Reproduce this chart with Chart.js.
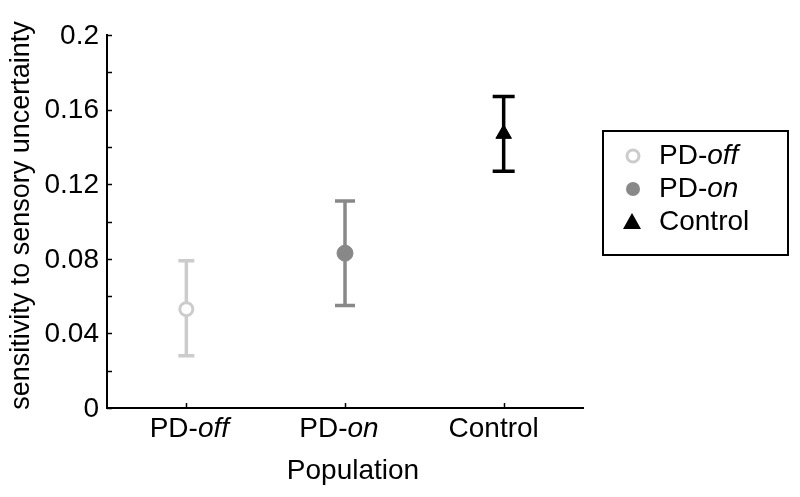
<!DOCTYPE html>
<html>
<head>
<meta charset="utf-8">
<script src="https://cdn.jsdelivr.net/npm/chart.js@4"></script>
<style>
  html, body { margin: 0; background: #fff; }
  #wrap { width: 800px; height: 497px; }
</style>
</head>
<body>
<div id="wrap"><canvas id="c"></canvas></div>
<script>
// data læst fra figuren
const categories = ['PD-off', 'PD-on', 'Control'];
const labelPlain = ['PD-', 'PD-', 'Control'];   // normal del af label
const labelItalic = ['off', 'on', ''];           // kursiv del af label
const means = [0.053, 0.083, 0.147];
const lower = [0.028, 0.055, 0.127];
const upper = [0.079, 0.111, 0.167];
const yTicks = [0, 0.04, 0.08, 0.12, 0.16, 0.2];

const colors = ['#cccccc', '#888888', '#000000'];
const FONT = '"Liberation Sans", Arial, sans-serif';

// tegner label (normal + kursiv del)
// align: 'left' | 'center' | 'right'
function mixedText(ctx, plain, ital, x, y, align, fs) {
  fs = fs || 28;
  ctx.save();
  ctx.font = fs + 'px ' + FONT;
  const w1 = ctx.measureText(plain).width;
  ctx.font = 'italic ' + fs + 'px ' + FONT;
  const w2 = ital ? ctx.measureText(ital).width : 0;
  const w = w1 + w2;
  let x0 = x;
  if (align === 'center') x0 = x - w / 2;
  if (align === 'right') x0 = x - w;
  ctx.textAlign = 'left';
  ctx.textBaseline = 'middle';
  ctx.font = fs + 'px ' + FONT;
  ctx.fillText(plain, x0, y);
  if (ital) {
    ctx.font = 'italic ' + fs + 'px ' + FONT;
    ctx.fillText(ital, x0 + w1, y);
  }
  ctx.restore();
}

// fejlsøjler, ticks indad, tekster og legend
const extras = {
  id: 'extras',
  beforeDatasetsDraw(chart) {
    const ctx = chart.ctx;
    const xs = chart.scales.x, ys = chart.scales.y;
    const capHalf = [8, 10, 11];
    ctx.save();
    ctx.lineWidth = 3.5;
    categories.forEach((c, i) => {
      const x = xs.getPixelForValue(i);
      const yl = ys.getPixelForValue(lower[i]);
      const yu = ys.getPixelForValue(upper[i]);
      ctx.strokeStyle = colors[i];
      ctx.beginPath();
      ctx.moveTo(x, yl); ctx.lineTo(x, yu);
      ctx.moveTo(x - capHalf[i], yl); ctx.lineTo(x + capHalf[i], yl);
      ctx.moveTo(x - capHalf[i], yu); ctx.lineTo(x + capHalf[i], yu);
      ctx.stroke();
    });
    ctx.restore();
  },
  afterDraw(chart) {
    const ctx = chart.ctx;
    const xs = chart.scales.x, ys = chart.scales.y;
    const area = chart.chartArea;
    ctx.save();
    ctx.strokeStyle = '#000';
    ctx.fillStyle = '#000';
    ctx.lineWidth = 1.5;
    // små ticks indad på y-aksen
    ys.ticks.forEach(t => {
      const y = Math.round(ys.getPixelForValue(t.value)) + 0.5;
      ctx.beginPath();
      ctx.moveTo(area.left, y); ctx.lineTo(area.left + 5, y);
      ctx.stroke();
    });
    // y tick labels
    yTicks.forEach(v => {
      mixedText(ctx, String(v), '', area.left - 8, ys.getPixelForValue(v) + 1, 'right');
    });
    // y titel (roteret)
    ctx.save();
    ctx.translate(22, (area.top + area.bottom) / 2 - 6);
    ctx.rotate(-Math.PI / 2);
    mixedText(ctx, 'sensitivity to sensory uncertainty', '', 0, 0, 'center', 27);
    ctx.restore();
    // ticks indad på x-aksen
    categories.forEach((c, i) => {
      const x = Math.round(xs.getPixelForValue(i)) + 0.5;
      ctx.beginPath();
      ctx.moveTo(x, area.bottom); ctx.lineTo(x, area.bottom - 5);
      ctx.stroke();
    });
    // x labels og titel (labels sidder lidt skævt i forhold til ticks i originalen)
    const labelShift = [3, -6, -10];
    categories.forEach((c, i) => {
      mixedText(ctx, labelPlain[i], labelItalic[i], xs.getPixelForValue(i) + labelShift[i], area.bottom + 21, 'center');
    });
    mixedText(ctx, 'Population', '', 353, 471, 'center');

    // legend boks
    ctx.lineWidth = 2;
    ctx.strokeRect(603, 131, 185, 124);
    const rows = [156, 189, 222];
    // åben cirkel
    ctx.strokeStyle = colors[0];
    ctx.lineWidth = 3;
    ctx.fillStyle = '#fff';
    ctx.beginPath(); ctx.arc(633, rows[0], 6, 0, Math.PI * 2); ctx.fill(); ctx.stroke();
    // fyldt cirkel
    ctx.fillStyle = colors[1];
    ctx.beginPath(); ctx.arc(633, rows[1], 7, 0, Math.PI * 2); ctx.fill();
    // trekant
    ctx.fillStyle = colors[2];
    ctx.beginPath();
    ctx.moveTo(632, rows[2] - 9); ctx.lineTo(641, rows[2] + 7); ctx.lineTo(623, rows[2] + 7);
    ctx.closePath(); ctx.fill();
    ctx.fillStyle = '#000';
    categories.forEach((c, i) => {
      mixedText(ctx, labelPlain[i], labelItalic[i], 659, rows[i], 'left');
    });
    ctx.restore();
  }
};

const datasets = categories.map((c, i) => ({
  label: c,
  data: categories.map((cc, j) => (j === i ? means[i] : null)),
  showLine: false,
  pointStyle: i === 2 ? 'triangle' : 'circle',
  pointRadius: i === 0 ? 6.5 : (i === 1 ? 8 : 9),
  pointBorderWidth: i === 0 ? 3 : 1,
  pointBorderColor: colors[i],
  pointBackgroundColor: i === 0 ? '#fff' : colors[i]
}));

new Chart(document.getElementById('c'), {
  type: 'line',
  data: { labels: categories, datasets },
  options: {
    responsive: true,
    maintainAspectRatio: false,
    animation: false,
    layout: { padding: { top: 35, right: 217, bottom: 0, left: 0 } },
    plugins: { legend: { display: false }, tooltip: { enabled: false } },
    scales: {
      x: {
        offset: true,
        grid: { display: false },
        border: { display: true, color: '#000', width: 2 },
        ticks: { display: false },
        afterFit(s) { s.height = 89; }
      },
      y: {
        min: 0,
        max: 0.2,
        grid: { display: false },
        border: { display: true, color: '#000', width: 2 },
        ticks: { stepSize: 0.02, autoSkip: false, display: false },
        afterFit(s) { s.width = 107; }
      }
    }
  },
  plugins: [extras]
});
</script>
</body>
</html>
